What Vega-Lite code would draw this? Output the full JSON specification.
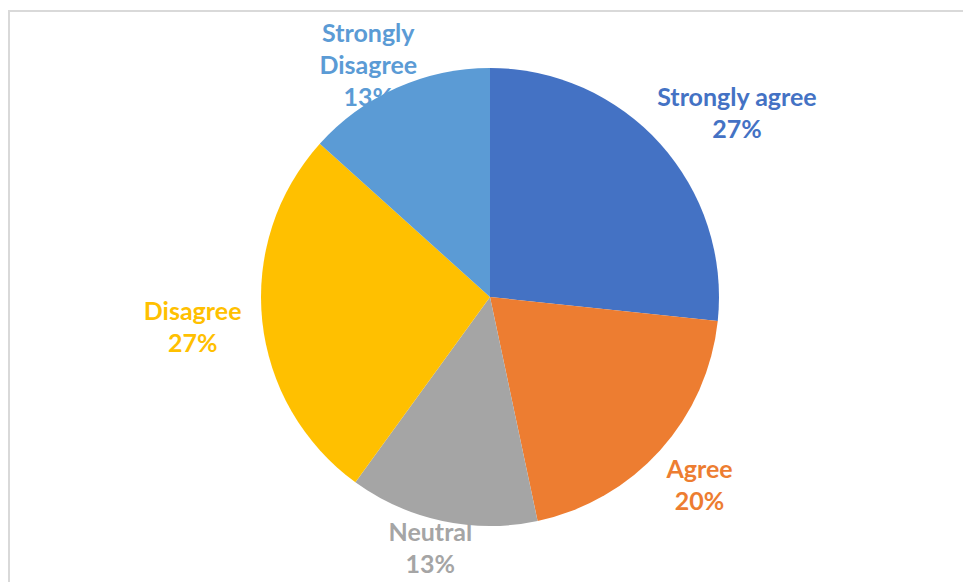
{
  "$schema": "https://vega.github.io/schema/vega-lite/v6.json",
  "width": 962,
  "height": 572,
  "autosize": "none",
  "padding": {"left": 9, "top": 11, "right": 0, "bottom": 0},
  "background": "white",
  "view": {"stroke": "#D9D9D9", "strokeWidth": 2, "fill": "white"},
  "config": {"view": {"stroke": "#D9D9D9", "strokeWidth": 2}},
  "data": {
    "values": [
      {"Response": "Strongly agree", "count": 4, "rank": 1, "label": "Strongly agree\n27%"},
      {"Response": "Agree", "count": 3, "rank": 2, "label": "Agree\n20%"},
      {"Response": "Neutral", "count": 2, "rank": 3, "label": "Neutral\n13%"},
      {"Response": "Disagree", "count": 4, "rank": 4, "label": "Disagree\n27%"},
      {"Response": "Strongly Disagree", "count": 2, "rank": 5, "label": "Strongly\nDisagree\n13%"}
    ]
  },
  "encoding": {
    "theta": {"field": "count", "type": "quantitative", "stack": true},
    "order": {"field": "rank", "type": "quantitative"},
    "color": {
      "field": "Response",
      "type": "nominal",
      "scale": {
        "domain": ["Strongly agree", "Agree", "Neutral", "Disagree", "Strongly Disagree"],
        "range": ["#4472C4", "#ED7D31", "#A5A5A5", "#FFC000", "#5B9BD5"]
      },
      "legend": null
    }
  },
  "layer": [
    {
      "mark": {
        "type": "text",
        "font": "Lato",
        "fontWeight": "bold",
        "fontSize": 25,
        "lineBreak": "\n",
        "lineHeight": 32,
        "baseline": "middle",
        "align": "center",
        "radius": {"expr": "datum.Response == 'Strongly agree' ? 300 : datum.Response == 'Agree' ? 282 : datum.Response == 'Neutral' ? 258 : datum.Response == 'Disagree' ? 299 : 260"},
        "dx": {"expr": "datum.Response == 'Strongly agree' ? 24 : datum.Response == 'Neutral' ? -6 : datum.Response == 'Strongly Disagree' ? -16 : 0"},
        "dy": {"expr": "datum.Response == 'Strongly agree' ? 2 : datum.Response == 'Strongly Disagree' ? -25 : -16"}
      },
      "encoding": {"text": {"field": "label", "type": "nominal"}}
    },
    {
      "mark": {"type": "arc", "outerRadius": 229}
    }
  ]
}
